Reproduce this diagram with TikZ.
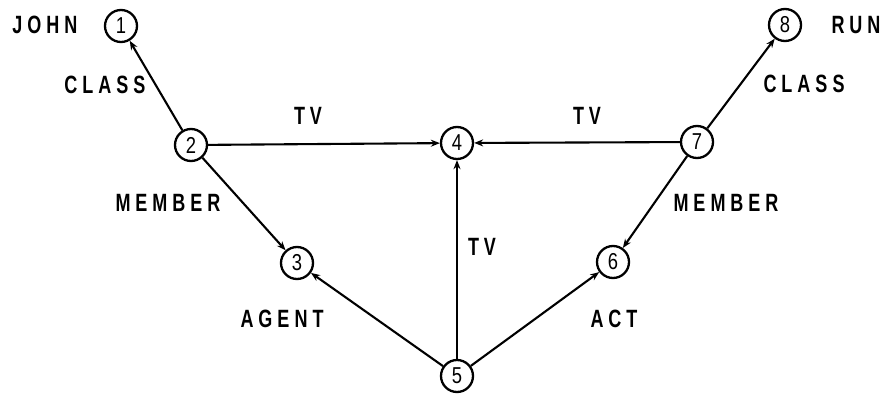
\documentclass[tikz,border=0pt]{standalone}
\usepackage{fontspec}
\setmainfont[LetterSpace=20,FakeStretch=0.72]{Liberation Sans}
\newfontfamily\digitfont[FakeStretch=0.8]{Liberation Sans}
\usetikzlibrary{arrows.meta}
\begin{document}
\begin{tikzpicture}[x=1pt,y=-1pt,
  nd/.style={circle,draw,line width=2.3pt,minimum size=32pt,inner sep=0pt,font=\digitfont\fontsize{23}{23}\selectfont},
  lbl/.style={font=\fontsize{25}{25}\selectfont\bfseries},
  edge/.style={line width=2.1pt,-{Stealth[length=9pt,width=7pt]}}]
\useasboundingbox (0,0) rectangle (883,396);
\node[nd] (n1) at (121,26) {1};
\node[nd] (n2) at (191,145) {2};
\node[nd] (n3) at (297,263) {3};
\node[nd] (n4) at (457,143) {4};
\node[nd] (n5) at (457,376) {5};
\node[nd] (n6) at (613,262) {6};
\node[nd] (n7) at (697,142) {7};
\node[nd] (n8) at (785,25) {8};
\node[lbl] (tjohn) at (45,25) {JOHN};
\node[lbl] (trun) at (856,25) {RUN};
\node[lbl] (tclassl) at (105,85) {CLASS};
\node[lbl] (tclassr) at (804,84) {CLASS};
\node[lbl] (ttvl) at (308,116) {TV};
\node[lbl] (ttvr) at (587,116) {TV};
\node[lbl] (ttvm) at (482,247) {TV};
\node[lbl] (tmeml) at (168,203) {MEMBER};
\node[lbl] (tmemr) at (726,203) {MEMBER};
\node[lbl] (tagent) at (282,319) {AGENT};
\node[lbl] (tact) at (614,319) {ACT};
\draw[edge] (n2) -- (n1);
\draw[edge] (n2) -- (n4);
\draw[edge] (n7) -- (n4);
\draw[edge] (n7) -- (n8);
\draw[edge] (n2) -- (n3);
\draw[edge] (n7) -- (n6);
\draw[edge] (n5) -- (n3);
\draw[edge] (n5) -- (n6);
\draw[edge] (n5) -- (n4);
\end{tikzpicture}
\end{document}
